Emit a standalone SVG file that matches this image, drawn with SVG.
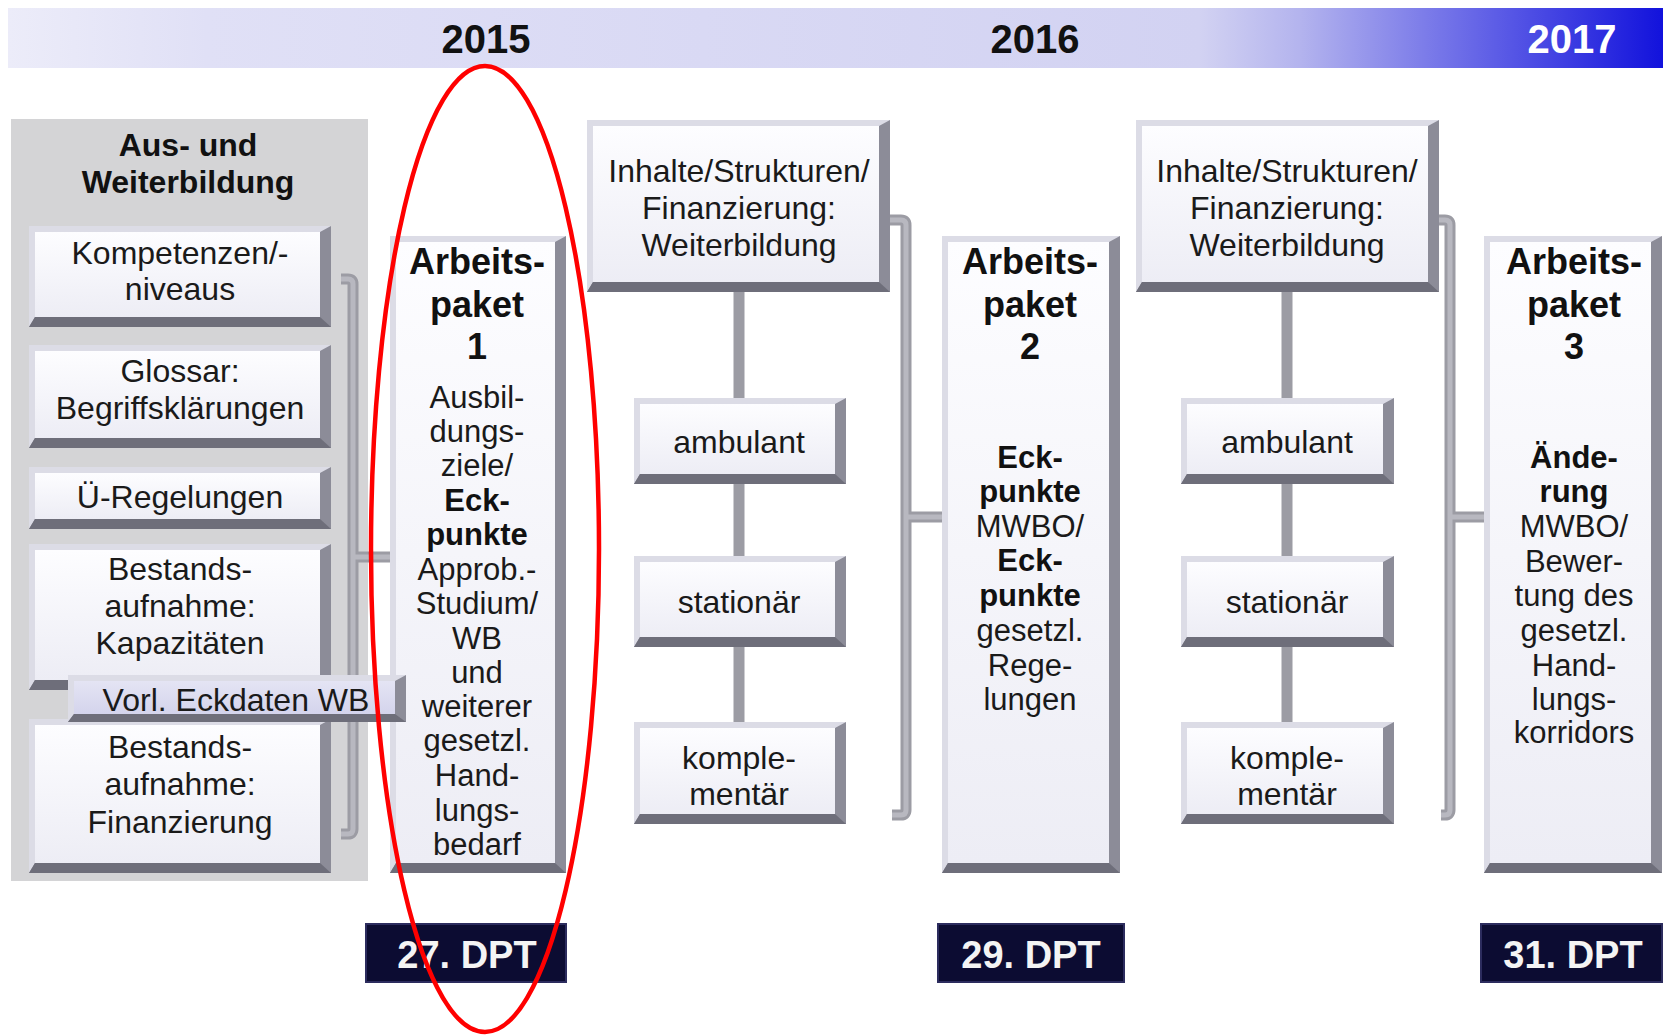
<svg xmlns="http://www.w3.org/2000/svg" width="1665" height="1035" viewBox="0 0 1665 1035">
<defs>
<linearGradient id="hdr" x1="0" y1="0" x2="1" y2="0">
<stop offset="0" stop-color="#ececf9"/>
<stop offset="0.12" stop-color="#e0e0f6"/>
<stop offset="0.72" stop-color="#d2d2f2"/>
<stop offset="0.78" stop-color="#b4b4ee"/>
<stop offset="0.9" stop-color="#5c5ce6"/>
<stop offset="1" stop-color="#1212dc"/>
</linearGradient>
<linearGradient id="face" x1="0" y1="0" x2="0" y2="1">
<stop offset="0" stop-color="#fdfdff"/>
<stop offset="1" stop-color="#ededf5"/>
</linearGradient>
<linearGradient id="vface" x1="0" y1="0" x2="0" y2="1">
<stop offset="0" stop-color="#e4e4f4"/>
<stop offset="1" stop-color="#d4d4ec"/>
</linearGradient>
<style>
.o{fill:#8c8c98}
.tl{fill:#dcdce6}
.bt{fill:#6e6e7a}
.fc{fill:url(#face)}
.vf{fill:url(#vface)}
.c{fill:none;stroke:#9c9ca4;stroke-width:11}
.ch{fill:none;stroke:#b8b8c0;stroke-width:5}
.t{font-family:"Liberation Sans",Arial,sans-serif;font-size:32px;fill:#1a1a1a;text-anchor:middle}
.b{font-family:"Liberation Sans",Arial,sans-serif;font-weight:bold;fill:#111;text-anchor:middle}
.ap{font-family:"Liberation Sans",Arial,sans-serif;font-size:31px;fill:#1a1a1a;text-anchor:middle}
.apb{font-weight:bold;fill:#111}
.yr{font-family:"Liberation Sans",Arial,sans-serif;font-weight:bold;font-size:40px;text-anchor:middle}
.dpt{fill:#0c0c32;stroke:#2c2c5e;stroke-width:2}
.dt{font-family:"Liberation Sans",Arial,sans-serif;font-weight:bold;font-size:38px;fill:#f4f4f4;text-anchor:middle}
</style>
</defs>
<rect width="1665" height="1035" fill="#ffffff"/>

<g id="header">
<rect x="8" y="8" width="1655" height="60" fill="url(#hdr)"/>
<text class="yr" x="486" y="53" fill="#111">2015</text>
<text class="yr" x="1035" y="53" fill="#111">2016</text>
<text class="yr" x="1572" y="53" fill="#ffffff">2017</text>
</g>

<g id="panel-aus-und-weiterbildung">
<rect x="11" y="119" width="357" height="762" fill="#d4d4d6"/>
<text class="b" font-size="32" x="188"><tspan x="188" y="156">Aus- und</tspan><tspan x="188" y="193">Weiterbildung</tspan></text>
</g>

<g id="connectors">
<path class="c" d="M341,279 H348 Q353,279 353,284 V829 Q353,834 348,834 H341 M353,557 H392"/>
<path class="ch" d="M341,279 H348 Q353,279 353,284 V829 Q353,834 348,834 H341 M353,557 H392"/>
<path class="c" d="M739,292 V724 M1287,292 V724"/>
<path class="c" d="M888,220 H901 Q906,220 906,225 V810 Q906,815 901,815 H892 M906,517 H944"/>
<path class="ch" d="M888,220 H901 Q906,220 906,225 V810 Q906,815 901,815 H892 M906,517 H944"/>
<path class="c" d="M1437,220 H1445 Q1450,220 1450,225 V810 Q1450,815 1445,815 H1441 M1450,517 H1486"/>
<path class="ch" d="M1437,220 H1445 Q1450,220 1450,225 V810 Q1450,815 1445,815 H1441 M1450,517 H1486"/>
</g>

<g id="kompetenzen">
<rect class="o" x="29" y="226" width="302" height="101"/>
<polygon class="tl" points="29,226 331,226 320,232 35,232 35,317 29,327"/>
<polygon class="bt" points="29,327 35,317 320,317 331,327"/>
<rect class="fc" x="35" y="232" width="285" height="85"/>
<text class="t"><tspan x="180" y="264">Kompetenzen/-</tspan><tspan x="180" y="300">niveaus</tspan></text>
</g>

<g id="glossar">
<rect class="o" x="29" y="345" width="302" height="103"/>
<polygon class="tl" points="29,345 331,345 320,351 35,351 35,438 29,448"/>
<polygon class="bt" points="29,448 35,438 320,438 331,448"/>
<rect class="fc" x="35" y="351" width="285" height="87"/>
<text class="t"><tspan x="180" y="382">Glossar:</tspan><tspan x="180" y="419">Begriffsklärungen</tspan></text>
</g>

<g id="ue-regelungen">
<rect class="o" x="29" y="467" width="302" height="62"/>
<polygon class="tl" points="29,467 331,467 320,473 35,473 35,519 29,529"/>
<polygon class="bt" points="29,529 35,519 320,519 331,529"/>
<rect class="fc" x="35" y="473" width="285" height="46"/>
<text class="t" x="180" y="508">Ü-Regelungen</text>
</g>

<g id="bestand-kapazitaeten">
<rect class="o" x="29" y="544" width="302" height="146"/>
<polygon class="tl" points="29,544 331,544 320,550 35,550 35,680 29,690"/>
<polygon class="bt" points="29,690 35,680 320,680 331,690"/>
<rect class="fc" x="35" y="550" width="285" height="130"/>
<text class="t"><tspan x="180" y="580">Bestands-</tspan><tspan x="180" y="617">aufnahme:</tspan><tspan x="180" y="654">Kapazitäten</tspan></text>
</g>

<g id="bestand-finanzierung">
<rect class="o" x="29" y="719" width="302" height="154"/>
<polygon class="tl" points="29,719 331,719 320,725 35,725 35,863 29,873"/>
<polygon class="bt" points="29,873 35,863 320,863 331,873"/>
<rect class="fc" x="35" y="725" width="285" height="138"/>
<text class="t"><tspan x="180" y="758">Bestands-</tspan><tspan x="180" y="795">aufnahme:</tspan><tspan x="180" y="833">Finanzierung</tspan></text>
</g>

<g id="arbeitspaket-1">
<rect class="o" x="390" y="236" width="176" height="637"/>
<polygon class="tl" points="390,236 566,236 555,242 396,242 396,863 390,873"/>
<polygon class="bt" points="390,873 396,863 555,863 566,873"/>
<rect class="fc" x="396" y="242" width="159" height="621"/>
<text class="b" font-size="36"><tspan x="477" y="274">Arbeits-</tspan><tspan x="477" y="317">paket</tspan><tspan x="477" y="359">1</tspan></text>
<text class="ap"><tspan x="477" y="408">Ausbil-</tspan><tspan x="477" y="442">dungs-</tspan><tspan x="477" y="476">ziele/</tspan><tspan class="apb" x="477" y="511">Eck-</tspan><tspan class="apb" x="477" y="545">punkte</tspan><tspan x="477" y="580">Approb.-</tspan><tspan x="477" y="614">Studium/</tspan><tspan x="477" y="649">WB</tspan><tspan x="477" y="683">und</tspan><tspan x="477" y="717">weiterer</tspan><tspan x="477" y="751">gesetzl.</tspan><tspan x="477" y="786">Hand-</tspan><tspan x="477" y="821">lungs-</tspan><tspan x="477" y="855">bedarf</tspan></text>
</g>

<g id="vorl-eckdaten">
<rect class="o" x="68" y="675" width="338" height="47"/>
<polygon class="tl" points="68,675 406,675 395,681 74,681 74,714 68,722"/>
<polygon class="bt" points="68,722 74,714 395,714 406,722"/>
<rect class="vf" x="74" y="681" width="321" height="33"/>
<text class="t" x="236" y="711">Vorl. Eckdaten WB</text>
</g>

<g id="inhalte-2015">
<rect class="o" x="587" y="120" width="303" height="172"/>
<polygon class="tl" points="587,120 890,120 879,126 593,126 593,282 587,292"/>
<polygon class="bt" points="587,292 593,282 879,282 890,292"/>
<rect class="fc" x="593" y="126" width="286" height="156"/>
<text class="t"><tspan x="739" y="182">Inhalte/Strukturen/</tspan><tspan x="739" y="219">Finanzierung:</tspan><tspan x="739" y="256">Weiterbildung</tspan></text>
</g>

<g id="ambulant-2015">
<rect class="o" x="634" y="398" width="212" height="86"/>
<polygon class="tl" points="634,398 846,398 835,404 640,404 640,474 634,484"/>
<polygon class="bt" points="634,484 640,474 835,474 846,484"/>
<rect class="fc" x="640" y="404" width="195" height="70"/>
<text class="t" x="739" y="453">ambulant</text>
</g>

<g id="stationaer-2015">
<rect class="o" x="634" y="556" width="212" height="91"/>
<polygon class="tl" points="634,556 846,556 835,562 640,562 640,637 634,647"/>
<polygon class="bt" points="634,647 640,637 835,637 846,647"/>
<rect class="fc" x="640" y="562" width="195" height="75"/>
<text class="t" x="739" y="613">stationär</text>
</g>

<g id="komplementaer-2015">
<rect class="o" x="634" y="722" width="212" height="102"/>
<polygon class="tl" points="634,722 846,722 835,728 640,728 640,814 634,824"/>
<polygon class="bt" points="634,824 640,814 835,814 846,824"/>
<rect class="fc" x="640" y="728" width="195" height="86"/>
<text class="t"><tspan x="739" y="769">komple-</tspan><tspan x="739" y="805">mentär</tspan></text>
</g>

<g id="arbeitspaket-2">
<rect class="o" x="942" y="236" width="178" height="637"/>
<polygon class="tl" points="942,236 1120,236 1109,242 948,242 948,863 942,873"/>
<polygon class="bt" points="942,873 948,863 1109,863 1120,873"/>
<rect class="fc" x="948" y="242" width="161" height="621"/>
<text class="b" font-size="36"><tspan x="1030" y="274">Arbeits-</tspan><tspan x="1030" y="317">paket</tspan><tspan x="1030" y="359">2</tspan></text>
<text class="ap"><tspan class="apb" x="1030" y="468">Eck-</tspan><tspan class="apb" x="1030" y="502">punkte</tspan><tspan x="1030" y="537">MWBO/</tspan><tspan class="apb" x="1030" y="571">Eck-</tspan><tspan class="apb" x="1030" y="606">punkte</tspan><tspan x="1030" y="641">gesetzl.</tspan><tspan x="1030" y="676">Rege-</tspan><tspan x="1030" y="710">lungen</tspan></text>
</g>

<g id="inhalte-2016">
<rect class="o" x="1136" y="120" width="303" height="172"/>
<polygon class="tl" points="1136,120 1439,120 1428,126 1142,126 1142,282 1136,292"/>
<polygon class="bt" points="1136,292 1142,282 1428,282 1439,292"/>
<rect class="fc" x="1142" y="126" width="286" height="156"/>
<text class="t"><tspan x="1287" y="182">Inhalte/Strukturen/</tspan><tspan x="1287" y="219">Finanzierung:</tspan><tspan x="1287" y="256">Weiterbildung</tspan></text>
</g>

<g id="ambulant-2016">
<rect class="o" x="1181" y="398" width="213" height="86"/>
<polygon class="tl" points="1181,398 1394,398 1383,404 1187,404 1187,474 1181,484"/>
<polygon class="bt" points="1181,484 1187,474 1383,474 1394,484"/>
<rect class="fc" x="1187" y="404" width="196" height="70"/>
<text class="t" x="1287" y="453">ambulant</text>
</g>

<g id="stationaer-2016">
<rect class="o" x="1181" y="556" width="213" height="91"/>
<polygon class="tl" points="1181,556 1394,556 1383,562 1187,562 1187,637 1181,647"/>
<polygon class="bt" points="1181,647 1187,637 1383,637 1394,647"/>
<rect class="fc" x="1187" y="562" width="196" height="75"/>
<text class="t" x="1287" y="613">stationär</text>
</g>

<g id="komplementaer-2016">
<rect class="o" x="1181" y="722" width="213" height="102"/>
<polygon class="tl" points="1181,722 1394,722 1383,728 1187,728 1187,814 1181,824"/>
<polygon class="bt" points="1181,824 1187,814 1383,814 1394,824"/>
<rect class="fc" x="1187" y="728" width="196" height="86"/>
<text class="t"><tspan x="1287" y="769">komple-</tspan><tspan x="1287" y="805">mentär</tspan></text>
</g>

<g id="arbeitspaket-3">
<rect class="o" x="1484" y="236" width="178" height="637"/>
<polygon class="tl" points="1484,236 1662,236 1651,242 1490,242 1490,863 1484,873"/>
<polygon class="bt" points="1484,873 1490,863 1651,863 1662,873"/>
<rect class="fc" x="1490" y="242" width="161" height="621"/>
<text class="b" font-size="36"><tspan x="1574" y="274">Arbeits-</tspan><tspan x="1574" y="317">paket</tspan><tspan x="1574" y="359">3</tspan></text>
<text class="ap"><tspan class="apb" x="1574" y="468">Ände-</tspan><tspan class="apb" x="1574" y="502">rung</tspan><tspan x="1574" y="537">MWBO/</tspan><tspan x="1574" y="572">Bewer-</tspan><tspan x="1574" y="606">tung des</tspan><tspan x="1574" y="641">gesetzl.</tspan><tspan x="1574" y="676">Hand-</tspan><tspan x="1574" y="710">lungs-</tspan><tspan x="1574" y="743">korridors</tspan></text>
</g>

<g id="dpt-27">
<rect class="dpt" x="366" y="924" width="200" height="58"/>
<text class="dt" x="467" y="968">27. DPT</text>
</g>
<g id="dpt-29">
<rect class="dpt" x="938" y="924" width="186" height="58"/>
<text class="dt" x="1031" y="968">29. DPT</text>
</g>
<g id="dpt-31">
<rect class="dpt" x="1481" y="924" width="181" height="58"/>
<text class="dt" x="1573" y="968">31. DPT</text>
</g>

<g id="highlight-ellipse">
<ellipse cx="485" cy="549" rx="114" ry="483" fill="none" stroke="#ff0000" stroke-width="4.5"/>
</g>
</svg>
